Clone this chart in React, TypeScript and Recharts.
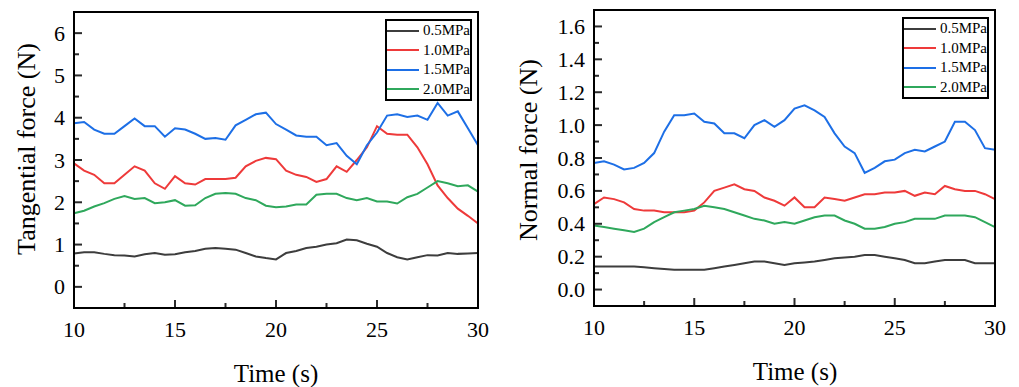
import { LineChart, Line, XAxis, YAxis, Legend } from "recharts"

const FONT = '"Liberation Serif", "Times New Roman", serif'
const TICK_INK = "#2b2b2b"

const time = [
  10, 10.5, 11, 11.5, 12, 12.5, 13, 13.5, 14, 14.5, 15, 15.5, 16, 16.5, 17, 17.5, 18, 18.5, 19, 19.5,
  20, 20.5, 21, 21.5, 22, 22.5, 23, 23.5, 24, 24.5, 25, 25.5, 26, 26.5, 27, 27.5, 28, 28.5, 29, 29.5, 30,
]

const seriesNames = ["0.5MPa", "1.0MPa", "1.5MPa", "2.0MPa"]
const seriesColors = ["#3d3d3d", "#ee3a3a", "#1d6fe6", "#2fa85c"]

// tangential force (N)
const tangential05 = [
  0.79, 0.82, 0.82, 0.78, 0.75, 0.74, 0.72, 0.77, 0.8, 0.76, 0.77, 0.82, 0.85, 0.9, 0.92, 0.9, 0.88, 0.8, 0.72, 0.68,
  0.65, 0.8, 0.85, 0.92, 0.95, 1.0, 1.03, 1.12, 1.1, 1.02, 0.95, 0.8, 0.7, 0.65, 0.7, 0.75, 0.74, 0.8, 0.78, 0.79, 0.8,
]
const tangential10 = [
  2.92, 2.75, 2.65, 2.45, 2.45, 2.65, 2.85, 2.75, 2.45, 2.32, 2.62, 2.45, 2.42, 2.55, 2.55, 2.55, 2.58, 2.85, 2.98, 3.05,
  3.02, 2.75, 2.65, 2.6, 2.48, 2.55, 2.85, 2.72, 3.0, 3.3, 3.8, 3.62, 3.6, 3.6, 3.3, 2.9, 2.4, 2.1, 1.85, 1.68, 1.5,
]
const tangential15 = [
  3.87, 3.9, 3.72, 3.62, 3.62, 3.8, 3.98, 3.8, 3.8, 3.55, 3.75, 3.72, 3.62, 3.5, 3.52, 3.48, 3.82, 3.95, 4.08, 4.12,
  3.85, 3.72, 3.58, 3.55, 3.55, 3.35, 3.4, 3.1, 2.9, 3.35, 3.65, 4.05, 4.08, 4.02, 4.05, 3.95, 4.35, 4.05, 4.15, 3.75, 3.35,
]
const tangential20 = [
  1.74, 1.8, 1.9, 1.98, 2.08, 2.15, 2.08, 2.1, 1.98, 2.0, 2.05, 1.92, 1.93, 2.1, 2.2, 2.22, 2.2, 2.1, 2.05, 1.92,
  1.88, 1.9, 1.95, 1.95, 2.18, 2.2, 2.2, 2.1, 2.05, 2.1, 2.02, 2.02, 1.97, 2.12, 2.2, 2.35, 2.5, 2.45, 2.38, 2.4, 2.25,
]

// normal force (N)
const normal05 = [
  0.14, 0.14, 0.14, 0.14, 0.14, 0.135, 0.13, 0.125, 0.12, 0.12, 0.12, 0.12, 0.13, 0.14, 0.15, 0.16, 0.17, 0.17, 0.16, 0.15,
  0.16, 0.165, 0.17, 0.18, 0.19, 0.195, 0.2, 0.21, 0.21, 0.2, 0.19, 0.18, 0.16, 0.16, 0.17, 0.18, 0.18, 0.18, 0.16, 0.16, 0.16,
]
const normal10 = [
  0.52, 0.56, 0.55, 0.53, 0.49, 0.48, 0.48, 0.47, 0.47, 0.47, 0.48, 0.53, 0.6, 0.62, 0.64, 0.61, 0.6, 0.56, 0.54, 0.51,
  0.56, 0.5, 0.5, 0.56, 0.55, 0.54, 0.56, 0.58, 0.58, 0.59, 0.59, 0.6, 0.57, 0.59, 0.58, 0.63, 0.61, 0.6, 0.6, 0.58, 0.55,
]
const normal15 = [
  0.77, 0.78, 0.76, 0.73, 0.74, 0.77, 0.83, 0.96, 1.06, 1.06, 1.07, 1.02, 1.01, 0.95, 0.95, 0.92, 1.0, 1.03, 0.99, 1.03,
  1.1, 1.12, 1.09, 1.05, 0.95, 0.87, 0.83, 0.71, 0.74, 0.78, 0.79, 0.83, 0.85, 0.84, 0.87, 0.9, 1.02, 1.02, 0.97, 0.86, 0.85,
]
const normal20 = [
  0.39, 0.38, 0.37, 0.36, 0.35, 0.37, 0.41, 0.44, 0.47, 0.48, 0.49, 0.51, 0.5, 0.49, 0.47, 0.45, 0.43, 0.42, 0.4, 0.41,
  0.4, 0.42, 0.44, 0.45, 0.45, 0.42, 0.4, 0.37, 0.37, 0.38, 0.4, 0.41, 0.43, 0.43, 0.43, 0.45, 0.45, 0.45, 0.44, 0.41, 0.38,
]

const xTicks = [10, 12.5, 15, 17.5, 20, 22.5, 25, 27.5, 30]
const xLabels = [10, 15, 20, 25, 30]
const tangentialTicks = [0, 0.5, 1, 1.5, 2, 2.5, 3, 3.5, 4, 4.5, 5, 5.5, 6]
const tangentialLabels = [0, 1, 2, 3, 4, 5, 6]
const normalTicks = [0, 0.1, 0.2, 0.3, 0.4, 0.5, 0.6, 0.7, 0.8, 0.9, 1.0, 1.1, 1.2, 1.3, 1.4, 1.5, 1.6]
const normalLabels = [0, 0.2, 0.4, 0.6, 0.8, 1.0, 1.2, 1.4, 1.6]

const tangentialData = time.map((t, i) => ({ t, s0: tangential05[i], s1: tangential10[i], s2: tangential15[i], s3: tangential20[i] }))
const normalData = time.map((t, i) => ({ t, s0: normal05[i], s1: normal10[i], s2: normal15[i], s3: normal20[i] }))

const isIn = (list: number[], v: number) => list.some((l) => Math.abs(l - v) < 1e-6)

// recharts gives the tick the text anchor, 8px (tickSize 6 + tickMargin 2) off the axis;
// the tick marks themselves point into the plot like in Origin
const XTick = (props: any) => {
  const { x, payload } = props
  const y = props.y - 8
  const major = isIn(xLabels, payload.value)
  return (
    <g>
      <path d={`M${x},${y}V${y - (major ? 8 : 5)}`} stroke={TICK_INK} strokeWidth={2} fill="none" />
      {major && (
        <text x={x} y={y + 29} textAnchor="middle" fontSize={22} fontFamily={FONT} fill="#000">
          {payload.value}
        </text>
      )}
    </g>
  )
}

const makeYTick = (labels: number[], digits: number) => (props: any) => {
  const { y, payload } = props
  const x = props.x + 8
  const major = isIn(labels, payload.value)
  return (
    <g>
      <path d={`M${x},${y}H${x + (major ? 8 : 5)}`} stroke={TICK_INK} strokeWidth={2} fill="none" />
      {major && (
        <text x={x - 9} y={y + 7.5} textAnchor="end" fontSize={22} fontFamily={FONT} fill="#000">
          {payload.value.toFixed(digits)}
        </text>
      )}
    </g>
  )
}
const TangentialTick = makeYTick(tangentialLabels, 0)
const NormalTick = makeYTick(normalLabels, 1)

const LegendBox = (props: any) => {
  const { payload } = props
  return (
    <div style={{ border: "2px solid #000", background: "#fff", width: 83, height: 78 }}>
      {(payload || []).map((p: any) => (
        <div key={p.value} style={{ display: "flex", alignItems: "center", height: 19.5 }}>
          <span style={{ display: "inline-block", width: 32, height: 2, background: p.color, marginRight: 4 }} />
          <span style={{ fontFamily: FONT, fontSize: 15, color: "#000", lineHeight: "15px" }}>{p.value}</span>
        </div>
      ))}
    </div>
  )
}

const titleStyle = { position: "absolute" as const, fontFamily: FONT, color: "#000", whiteSpace: "nowrap" as const, lineHeight: 1 }
const frameStyle = { position: "absolute" as const, boxSizing: "border-box" as const, border: "2px solid #000", pointerEvents: "none" as const }

export default function App() {
  return (
    <div style={{ position: "absolute", left: 0, top: 0, width: 1019, height: 387, background: "#fff" }}>
      <LineChart width={510} height={387} data={tangentialData} margin={{ top: 12, right: 32, bottom: 19, left: 24 }} style={{ position: "absolute", left: 0, top: 0 }}>
        <XAxis dataKey="t" type="number" domain={[10, 30]} ticks={xTicks} interval={0} height={60} tick={XTick} tickLine={false} axisLine={false} />
        <YAxis domain={[-0.5, 6.5]} ticks={tangentialTicks} interval={0} width={50} tick={TangentialTick} tickLine={false} axisLine={false} />
        {seriesNames.map((name, i) => (
          <Line key={name} dataKey={`s${i}`} name={name} stroke={seriesColors[i]} strokeWidth={2} dot={false} activeDot={false} isAnimationActive={false} />
        ))}
        <Legend layout="horizontal" verticalAlign="middle" align="center" content={LegendBox} wrapperStyle={{ left: 385, top: 19, width: 87, height: 82 }} />
      </LineChart>
      <LineChart width={509} height={387} data={normalData} margin={{ top: 10, right: 24, bottom: 21, left: 24 }} style={{ position: "absolute", left: 510, top: 0 }}>
        <XAxis dataKey="t" type="number" domain={[10, 30]} ticks={xTicks} interval={0} height={60} tick={XTick} tickLine={false} axisLine={false} />
        <YAxis domain={[-0.1, 1.7]} ticks={normalTicks} interval={0} width={60} tick={NormalTick} tickLine={false} axisLine={false} />
        {seriesNames.map((name, i) => (
          <Line key={name} dataKey={`s${i}`} name={name} stroke={seriesColors[i]} strokeWidth={2} dot={false} activeDot={false} isAnimationActive={false} />
        ))}
        <Legend layout="horizontal" verticalAlign="middle" align="center" content={LegendBox} wrapperStyle={{ left: 392, top: 17, width: 87, height: 82 }} />
      </LineChart>
      {/* plot frames, matching the chart margins above */}
      <div style={{ ...frameStyle, left: 73, top: 11, width: 406, height: 298 }} />
      <div style={{ ...frameStyle, left: 593, top: 9, width: 403, height: 298 }} />
      <div style={{ ...titleStyle, fontSize: 25, left: 276, top: 361, transform: "translateX(-50%)" }}>Time (s)</div>
      <div style={{ ...titleStyle, fontSize: 25, left: 795, top: 359, transform: "translateX(-50%)" }}>Time (s)</div>
      <div style={{ ...titleStyle, fontSize: 26, left: 27, top: 149, transform: "translate(-50%, -50%) rotate(-90deg)" }}>Tangential force (N)</div>
      <div style={{ ...titleStyle, fontSize: 26, left: 529, top: 150, transform: "translate(-50%, -50%) rotate(-90deg)" }}>Normal force (N)</div>
    </div>
  )
}
